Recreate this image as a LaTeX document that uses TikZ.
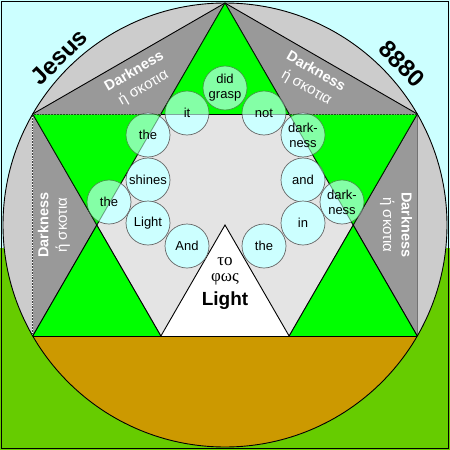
\documentclass[tikz,border=0pt]{standalone}
\usepackage{fontspec}
\setmainfont{Liberation Sans}
\newfontfamily\grkserif{Liberation Serif}
\definecolor{sky}{HTML}{CCFFFF}
\definecolor{ground}{HTML}{66CC00}
\definecolor{lgray}{HTML}{CCCCCC}
\definecolor{dgray}{HTML}{999999}
\definecolor{star}{HTML}{00FF00}
\definecolor{hexfill}{HTML}{E4E4E4}
\definecolor{earth}{HTML}{CC9900}
\definecolor{bubble}{HTML}{CCFFFF}
\newcommand{\grkline}[1]{{\mdseries\fontsize{15}{18.5}\selectfont #1}}
\tikzset{
  edge/.style={line width=0.9pt, black},
  dotline/.style={line width=0.9pt, black!75},
  dotwhite/.style={line width=0.9pt, white, dash pattern=on 0.9pt off 2pt},
  bub/.style={circle, draw=black!60, line width=0.7pt, fill=bubble, minimum size=44pt, inner sep=0pt},
  bubtext/.style={align=center, inner sep=0pt, font=\fontsize{13}{15}\selectfont},
  dark/.style={white, inner sep=0pt, align=center, font=\bfseries\fontsize{14.5}{18.5}\selectfont},
  bigword/.style={black, inner sep=0pt, font=\bfseries\fontsize{24}{24}\selectfont},
}
\begin{document}
\begin{tikzpicture}[x=1pt,y=-1pt]
\useasboundingbox (0,0) rectangle (450,450);
% background
\fill[sky] (0,0) rectangle (450,450);
\fill[ground] (0,248) rectangle (450,450);
\draw[line width=1pt] (1.5,1.5) rectangle (448.5,448.5);
% key points
\coordinate (C) at (225,225);
\coordinate (T) at (225,3);
\coordinate (UL) at (32.7,114);
\coordinate (UR) at (417.3,114);
\coordinate (LL) at (32.7,336);
\coordinate (LR) at (417.3,336);
\coordinate (H1) at (160.9,114);
\coordinate (H2) at (289.1,114);
\coordinate (H3) at (353.2,225);
\coordinate (H4) at (289.1,336);
\coordinate (H5) at (160.9,336);
\coordinate (H6) at (96.8,225);
% circle
\fill[lgray] (C) circle (222pt);
% dark gray notches
\fill[dgray] (T)--(UL)--(H1)--cycle;
\fill[dgray] (T)--(UR)--(H2)--cycle;
\fill[dgray] (UL)--(LL)--(H6)--cycle;
\fill[dgray] (UR)--(LR)--(H3)--cycle;
% green star points
\fill[star] (T)--(H1)--(H2)--cycle;
\fill[star] (UL)--(H1)--(H6)--cycle;
\fill[star] (UR)--(H2)--(H3)--cycle;
\fill[star] (LL)--(H5)--(H6)--cycle;
\fill[star] (LR)--(H4)--(H3)--cycle;
% inner hexagon
\fill[hexfill] (H1)--(H2)--(H3)--(H4)--(H5)--(H6)--cycle;
% light triangle
\fill[white] (H5)--(C)--(H4)--cycle;
% earth segment
\begin{scope}
  \clip (0,336) rectangle (450,450);
  \fill[earth] (C) circle (222pt);
\end{scope}
% lines
\draw[edge] (UL)--(T)--(UR);
\draw[edge] (T)--(LL);
\draw[edge] (T)--(LR);
\draw[edge] (UL)--(H5);
\draw[edge] (UR)--(H4);
\draw[edge] (H1)--(H2);
\draw[edge] (H5)--(C)--(H4);
\draw[dotline] (UL)--(H1) (H2)--(UR) (UL)--(LL);
\draw[dotwhite] (UL)--(H1) (H2)--(UR) (UL)--(LL);
\draw[line width=1pt, black!55] (UR)--(LR);
\draw[edge] (LL)--(LR);
\draw[edge] (C) circle (222pt);
% bubbles
\node[bub] (b1) at (187,113) {};
\node[bub] (b2) at (225,88) {};
\node[bub] (b3) at (264,113) {};
\node[bub] (b4) at (148,135) {};
\node[bub] (b5) at (148,180) {};
\node[bub] (b6) at (109,202) {};
\node[bub] (b7) at (148,223) {};
\node[bub] (b8) at (187,246) {};
\node[bub] (b9) at (303,135) {};
\node[bub] (b10) at (303,180) {};
\node[bub] (b11) at (342,202) {};
\node[bub] (b12) at (303,223) {};
\node[bub] (b13) at (264,246) {};
% translucent overlay of star points and lines
\begin{scope}[fill opacity=0.35, draw opacity=0.35]
\fill[star] (T)--(H1)--(H2)--cycle;
\fill[star] (UL)--(H1)--(H6)--cycle;
\fill[star] (UR)--(H2)--(H3)--cycle;
\draw[edge] (T)--(LL);
\draw[edge] (T)--(LR);
\draw[edge] (UL)--(H5);
\draw[edge] (UR)--(H4);
\draw[edge] (UL)--(UR);
\end{scope}
% bubble words
\node[bubtext] (w1) at (b1) {it};
\node[bubtext] (w2) at (b2) {did\\grasp};
\node[bubtext] (w3) at (b3) {not};
\node[bubtext] (w4) at (b4) {the};
\node[bubtext] (w5) at (b5) {shines};
\node[bubtext] (w6) at (b6) {the};
\node[bubtext] (w7) at (b7) {Light};
\node[bubtext] (w8) at (b8) {And};
\node[bubtext] (w9) at (b9) {dark-\\ness};
\node[bubtext] (w10) at (b10) {and};
\node[bubtext] (w11) at (b11) {dark-\\ness};
\node[bubtext] (w12) at (b12) {in};
\node[bubtext] (w13) at (b13) {the};
% darkness labels
\node[dark, rotate=30] (d1) at (139,80) {Darkness\\\grkline{ή σκοτια}};
\node[dark, rotate=-30] (d2) at (311,80) {Darkness\\\grkline{ή σκοτια}};
\node[dark, rotate=90] (d3) at (54,225) {Darkness\\\grkline{ή σκοτια}};
\node[dark, rotate=-90] (d4) at (396,225) {Darkness\\\grkline{ή σκοτια}};
% big words
\node[bigword, rotate=45] (jesus) at (59,57) {Jesus};
\node[bigword, rotate=-45] (num) at (402,64) {8880};
% light triangle text
\node[inner sep=0pt, font=\grkserif\fontsize{17}{17}\selectfont] (to) at (225,262) {το};
\node[inner sep=0pt, font=\grkserif\fontsize{17}{17}\selectfont] (phos) at (225,279) {φως};
\node[inner sep=0pt, font=\bfseries\fontsize{19}{19}\selectfont] (light) at (225,301) {Light};
\end{tikzpicture}
\end{document}
